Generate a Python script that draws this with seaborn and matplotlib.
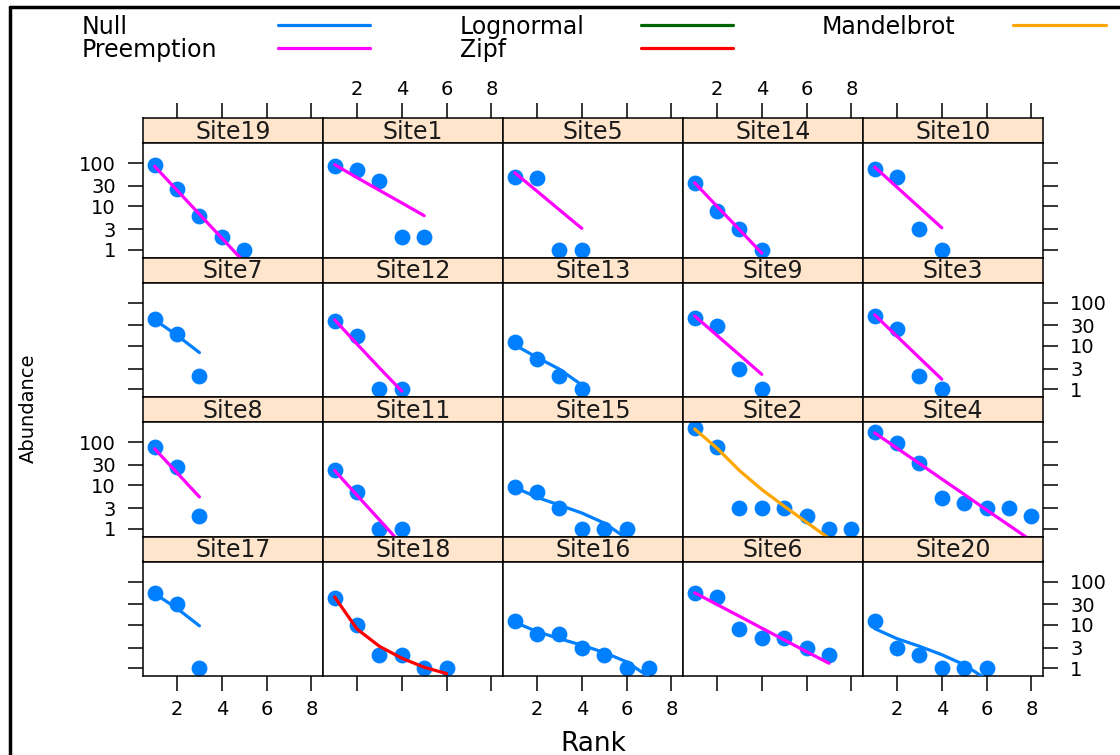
import pandas as pd
import matplotlib
matplotlib.use('Agg')
import matplotlib.pyplot as plt
from matplotlib.lines import Line2D
from matplotlib.ticker import NullLocator
import seaborn as sns

# sites in the order of the panel grid, top row first
panel_rows = [['Site19', 'Site1', 'Site5', 'Site14', 'Site10'],
              ['Site7', 'Site12', 'Site13', 'Site9', 'Site3'],
              ['Site8', 'Site11', 'Site15', 'Site2', 'Site4'],
              ['Site17', 'Site18', 'Site16', 'Site6', 'Site20']]

abundance = {
    'Site19': [92, 25, 6, 2, 1],
    'Site1': [84, 70, 38, 2, 2],
    'Site5': [48, 46, 1, 1],
    'Site14': [35, 8, 3, 1],
    'Site10': [74, 48, 3, 1],
    'Site7': [42, 19, 2],
    'Site12': [37, 17, 1, 1],
    'Site13': [12, 5, 2, 1],
    'Site9': [44, 29, 3, 1],
    'Site3': [49, 25, 2, 1],
    'Site8': [75, 27, 2],
    'Site11': [23, 7, 1, 1],
    'Site15': [9, 7, 3, 1, 1, 1],
    'Site2': [210, 75, 3, 3, 3, 2, 1, 1],
    'Site4': [170, 95, 33, 5, 4, 3, 3, 2],
    'Site17': [54, 31, 1],
    'Site18': [41, 10, 2, 2, 1, 1],
    'Site16': [12, 6, 6, 3, 2, 1, 1],
    'Site6': [55, 44, 8, 5, 5, 3, 2],
    'Site20': [12, 3, 2, 1, 1, 1],
}

# fitted values of the best model for each site
fitted = {
    'Site19': [84, 23.5, 6.6, 1.85, 0.52],
    'Site1': [92, 46, 23.5, 12, 6.1],
    'Site5': [60, 22.4, 8.3, 3.1],
    'Site14': [35, 10, 2.9, 0.83],
    'Site10': [81, 27.6, 9.4, 3.2],
    'Site7': [40, 17.5, 7],
    'Site12': [40, 11, 3.1, 0.9],
    'Site13': [10.5, 5.4, 2.9, 1.25],
    'Site9': [49, 17.4, 6.2, 2.2],
    'Site3': [52, 16.6, 5.3, 1.7],
    'Site8': [70, 19.5, 5.4],
    'Site11': [22, 5.9, 1.6, 0.43],
    'Site15': [9, 5.3, 3.5, 2.3, 1.35, 0.6],
    'Site2': [200, 72, 22, 8, 3.3, 1.4, 0.6, 0.27],
    'Site4': [163, 72, 32, 14, 6.2, 2.7, 1.2, 0.53],
    'Site17': [52.5, 24, 9.5],
    'Site18': [44, 8, 3.2, 1.7, 1.05, 0.75],
    'Site16': [11.5, 7, 4.8, 3.4, 2.3, 1.4, 0.63],
    'Site6': [55, 29.5, 15.8, 8.4, 4.5, 2.4, 1.3],
    'Site20': [8.2, 4.8, 3.2, 2.05, 1.2, 0.55],
}

best_model = {
    'Site7': 'Null', 'Site13': 'Null', 'Site15': 'Null',
    'Site17': 'Null', 'Site16': 'Null', 'Site20': 'Null',
    'Site18': 'Zipf', 'Site2': 'Mandelbrot',
}

model_names = ['Null', 'Preemption', 'Lognormal', 'Zipf', 'Mandelbrot']
model_colors = {'Null': '#0080ff', 'Preemption': '#ff00ff', 'Lognormal': '#006400',
                'Zipf': '#ff0000', 'Mandelbrot': '#ffa500'}
point_color = '#0080ff'
strip_color = '#ffe5cc'

y_ticks = [1, 3, 10, 30, 100]
x_ticks = [2, 4, 6, 8]

# long table for seaborn
rows = []
for site, vals in abundance.items():
    for i, v in enumerate(vals):
        rows.append((site, i + 1, v, fitted[site][i]))
df = pd.DataFrame(rows, columns=['Site', 'Rank', 'Abundance', 'Fitted'])

sns.set_style('white')
plt.rcParams['font.family'] = ['DejaVu Sans']
plt.rcParams['text.color'] = 'black'
plt.rcParams['xtick.color'] = 'black'
plt.rcParams['ytick.color'] = 'black'

W, H = 1120, 755
fig = plt.figure(figsize=(W / 100, H / 100), dpi=100)

def fx(x):
    return x / W

def fy(y):
    return 1 - y / H

col_w = 180
row_h = 139.5
strip_h = 25
panel_h = row_h - strip_h
tick_len = 10.5

for r, row in enumerate(panel_rows):
    for c, site in enumerate(row):
        left = 143 + col_w * c
        top = 118 + row_h * r

        # strip with the site name
        sax = fig.add_axes([fx(left), fy(top + strip_h), col_w / W, strip_h / H])
        sax.set_facecolor(strip_color)
        sax.set_xlim(0.48, 8.52)
        sax.set_yticks([])
        sax.set_xticks(x_ticks)
        sax.tick_params(axis='x', bottom=False, labelbottom=False, top=(r == 0),
                        labeltop=(r == 0 and c in (1, 3)), direction='out',
                        length=tick_len, width=1.1, labelsize=14, pad=3)
        sax.text(0.5, 0.45, site, transform=sax.transAxes, ha='center', va='center',
                 fontsize=17, color='#1a1a1a')
        for sp in sax.spines.values():
            sp.set_linewidth(1.1)
            sp.set_color('black')

        # panel
        ax = fig.add_axes([fx(left), fy(top + row_h), col_w / W, panel_h / H])
        sub = df[df.Site == site]
        sns.scatterplot(data=sub, x='Rank', y='Abundance', ax=ax, color=point_color,
                        s=130, linewidth=0, zorder=2, legend=False)
        model = best_model.get(site, 'Preemption')
        sns.lineplot(data=sub, x='Rank', y='Fitted', ax=ax, color=model_colors[model],
                     lw=2.3, zorder=3, estimator=None, legend=False)
        ax.set_yscale('log')
        ax.set_ylim(0.66, 290)
        ax.set_xlim(0.48, 8.52)
        ax.set_yticks(y_ticks, labels=[str(v) for v in y_ticks])
        ax.yaxis.set_minor_locator(NullLocator())
        ax.set_xticks(x_ticks)
        ax.set_xlabel('')
        ax.set_ylabel('')
        ax.tick_params(axis='y', left=(c == 0), right=(c == 4),
                       labelleft=(c == 0 and r in (0, 2)),
                       labelright=(c == 4 and r in (1, 3)),
                       direction='out', length=tick_len, width=1.1, labelsize=14, pad=9)
        ax.tick_params(axis='x', top=False, labeltop=False, bottom=(r == 3),
                       labelbottom=(r == 3 and c in (0, 2, 4)),
                       direction='out', length=tick_len, width=1.1, labelsize=14, pad=7)
        for sp in ax.spines.values():
            sp.set_linewidth(1.1)
            sp.set_color('black')

# axis titles
fig.text(fx(593), fy(744), 'Rank', ha='center', va='center', fontsize=19)
fig.text(fx(28), fy(408), 'Abundance', ha='center', va='center', rotation=90, fontsize=14)

# key at the top: text then line, three columns
key_x = [(82, 278, 370), (460, 641, 733), (822, 1013, 1106)]
key_y = [27, 50]
for k, name in enumerate(model_names):
    tx, lx0, lx1 = key_x[k // 2]
    yy = key_y[k % 2]
    fig.text(fx(tx), fy(yy), name, ha='left', va='center', fontsize=17)
    fig.add_artist(Line2D([fx(lx0), fx(lx1)], [fy(yy - 2), fy(yy - 2)],
                          transform=fig.transFigure, color=model_colors[name], lw=2.3))

# frame of the screenshot (top and left edges)
fig.add_artist(Line2D([fx(10), fx(1120)], [fy(7), fy(7)], transform=fig.transFigure,
                      color='black', lw=2.5))
fig.add_artist(Line2D([fx(10), fx(10)], [fy(7), fy(755)], transform=fig.transFigure,
                      color='black', lw=2.5))

fig.savefig('out.png', dpi=100)
